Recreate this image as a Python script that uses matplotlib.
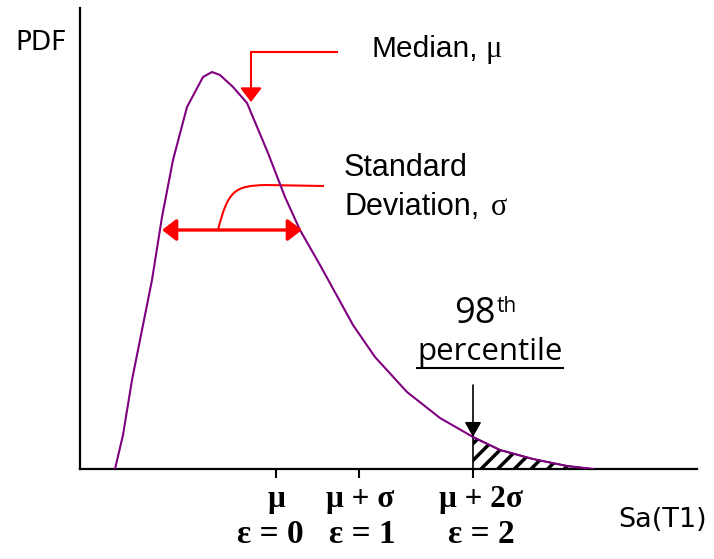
import matplotlib.pyplot as plt
import numpy as np
from matplotlib.path import Path
from matplotlib.patches import PathPatch

plt.rcParams['hatch.linewidth'] = 2.5

### curve (arbitrary units)
sa = np.array([0.35, 0.43, 0.52, 0.72, 0.82, 0.93, 1.07, 1.23, 1.32, 1.40, 1.53, 1.67, 1.88,
               2.05, 2.20, 2.40, 2.73, 2.95, 3.27, 3.60, 3.93, 4.20, 4.53, 4.87, 5.13])
pdf = np.array([0.0, 0.34, 0.89, 1.89, 2.52, 3.09, 3.62, 3.92, 3.97, 3.94, 3.82, 3.66, 3.16,
                2.72, 2.39, 2.04, 1.44, 1.12, 0.77, 0.51, 0.32, 0.19, 0.10, 0.03, 0.0])

tick_pos = [1.96, 2.79, 3.93]
tick_lab1 = ['\u03bc', '\u03bc + \u03c3', '\u03bc + 2\u03c3']
tick_lab1_x = [1.96, 2.80, 4.01]
tick_lab2 = ['\u03b5 = 0', '\u03b5 = 1', '\u03b5 = 2']
tick_lab2_x = [1.90, 2.82, 4.01]

x98 = 3.93
median_x = 1.71
std_lo, std_hi, std_y = 0.82, 2.22, 2.39

red = '#ff0000'
purple = '#800080'

fig = plt.figure(figsize=(7.14, 5.59), dpi=100)
ax = fig.add_axes([80/714, 90/559, 617/714, 461/559])
ax.set_xlim(0, 6.17)
ax.set_ylim(0, 4.61)
for s in ['top', 'right']:
    ax.spines[s].set_visible(False)
for s in ['left', 'bottom']:
    ax.spines[s].set_linewidth(1.6)
ax.set_yticks([])
ax.set_xticks(tick_pos)
ax.set_xticklabels([])
ax.tick_params(axis='x', direction='out', length=6.5, width=1.5)

### courbe + zone hachuree
ax.plot(sa, pdf, color=purple, lw=1.5, zorder=3)
ax.fill_between(sa, pdf, 0, where=sa >= x98, facecolor='white', edgecolor='black',
                hatch='//', lw=1.2, zorder=2)

### textes
serif = 'Liberation Serif'
ax.text(-0.65, 4.19, 'PDF', fontsize=19, family='DejaVu Sans', clip_on=False)
ax.text(5.38, -0.58, 'Sa(T1)', fontsize=19.5, family='DejaVu Sans', clip_on=False)

ax.text(2.91, 4.12, 'Median,', fontsize=21.5, family='Liberation Sans')
ax.text(4.05, 4.12, '\u03bc', fontsize=22, family=serif)
ax.text(2.64, 2.93, 'Standard', fontsize=22, family='Liberation Sans')
ax.text(2.64, 2.54, 'Deviation,', fontsize=22, family='Liberation Sans')
ax.text(4.11, 2.54, '\u03c3', fontsize=22, family=serif)

t98 = ax.text(3.74, 1.46, '98', fontsize=26, family='Open Sans')
pct = ax.text(4.10, 1.09, 'percentile', fontsize=22.5, family='Open Sans', ha='center')

for x, lab in zip(tick_lab1_x, tick_lab1):
    ax.text(x, -0.38, lab, fontsize=22.5, family=serif, weight='bold', ha='center', clip_on=False)
for x, lab in zip(tick_lab2_x, tick_lab2):
    ax.text(x, -0.74, lab, fontsize=24, family=serif, weight='bold', ha='center', clip_on=False)

# exposant + soulignement placés d'apres les boites de texte
fig.canvas.draw()
inv = ax.transData.inverted()
b98 = t98.get_window_extent().transformed(inv)
ax.text(b98.x1 + 0.01, 1.57, 'th', fontsize=15, family='Open Sans')
bb = pct.get_window_extent().transformed(inv)
ax.plot([bb.x0, bb.x1], [1.01, 1.01], color='black', lw=1.5)

### fleches
ax.plot([2.57, median_x], [4.17, 4.17], color=red, lw=1.5)
ax.annotate('', xy=(median_x, 3.67), xytext=(median_x, 4.17),
            arrowprops=dict(arrowstyle='-|>,head_length=0.43,head_width=0.33', color=red,
                            lw=1.5, mutation_scale=20, shrinkA=0, shrinkB=0))

ax.annotate('', xy=(std_hi, std_y), xytext=(std_lo, std_y),
            arrowprops=dict(arrowstyle='<|-|>,head_length=0.43,head_width=0.33', color=red,
                            lw=2.4, mutation_scale=20, shrinkA=0, shrinkB=0))
verts = [(1.38, 2.39), (1.48, 2.79), (1.55, 2.83), (1.85, 2.84), (2.44, 2.83)]
codes = [Path.MOVETO, Path.CURVE4, Path.CURVE4, Path.CURVE4, Path.LINETO]
ax.add_patch(PathPatch(Path(verts, codes), facecolor='none', edgecolor=red, lw=1.5))

ax.annotate('', xy=(x98, 0.32), xytext=(x98, 0.84),
            arrowprops=dict(arrowstyle='-|>,head_length=0.5,head_width=0.28', color='black',
                            lw=1.2, mutation_scale=18, shrinkA=0, shrinkB=0))

plt.savefig('out.png', dpi=100)
